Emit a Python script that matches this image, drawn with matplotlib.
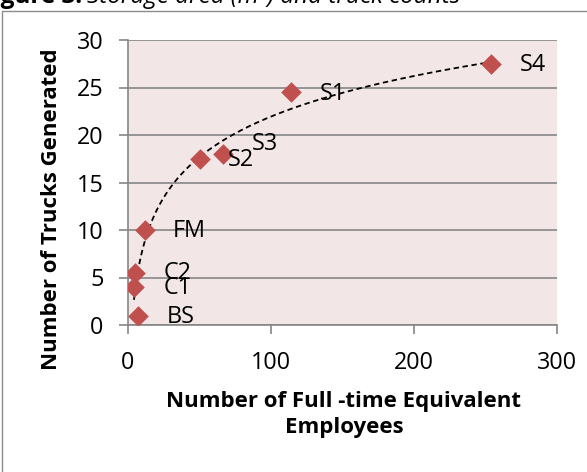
import numpy as np
import matplotlib
matplotlib.use("Agg")
import matplotlib.pyplot as plt
from matplotlib.patches import Rectangle

# Full-time equivalent employees vs. trucks generated per site
sites = ["BS", "C1", "C2", "FM", "S2", "S3", "S1", "S4"]
employees = [7, 4.4, 5, 12, 50.6, 66.3, 114, 254]
trucks = [1, 4, 5.5, 10, 17.5, 18, 24.5, 27.5]

x_ticks = [0, 100, 200, 300]
y_ticks = [0, 5, 10, 15, 20, 25, 30]

# label offsets in points (right of marker)
label_offsets = [(21, -1), (21, -1), (21, 0), (20, -1), (20, -1), (21, 7), (21, -1), (21, -1)]

FONT = "Open Sans"
plt.rcParams["font.family"] = [FONT, "DejaVu Sans"]

W, H = 587, 472
fig = plt.figure(figsize=(W / 100, H / 100), dpi=100)

TICK_FS = 16.8
LABEL_FS = 16
CAPTION_FS = 17.5

# chart frame
fig.patches.append(Rectangle((2 / W, -0.1), 1.2, (H - 11) / H + 0.1,
                             transform=fig.transFigure, fill=False,
                             edgecolor="#8c8c8c", linewidth=1.0))

# caption line above the chart (partly cut off by the page)
fig.text(82 / W, 1 - 3 / H, "Figure 3.", fontsize=CAPTION_FS, fontweight="bold",
         ha="right", va="baseline")
fig.text(87 / W, 1 - 3 / H, "Storage area (m²) and truck counts", fontsize=CAPTION_FS,
         fontstyle="italic", ha="left", va="baseline")

ax = fig.add_axes([127.7 / W, 147 / H, (556.7 - 127.7) / W, (432 - 147) / H])
ax.set_facecolor("#f2e6e6")

ax.set_xlim(0, 300)
ax.set_ylim(0, 30)
ax.set_xticks(x_ticks)
ax.set_yticks(y_ticks)
ax.tick_params(axis="both", labelsize=TICK_FS, colors="#868686", labelcolor="black",
               length=6.5, width=1.2, direction="out")
ax.tick_params(axis="x", pad=12.5)
ax.tick_params(axis="y", pad=11)

ax.yaxis.grid(True, color="#868686", linewidth=1.2)
ax.set_axisbelow(True)
for s in ["top", "right"]:
    ax.spines[s].set_visible(False)
for s in ["left", "bottom"]:
    ax.spines[s].set_color("#868686")
    ax.spines[s].set_linewidth(1.2)

# logarithmic trend line
ex = np.array(employees)
tr = np.array(trucks)
a, b = np.polyfit(np.log(ex), tr, 1)
xs = np.linspace(ex.min(), ex.max(), 400)
ax.plot(xs, a * np.log(xs) + b, linestyle=(0, (3, 2)), color="black", linewidth=1.3, zorder=3)

ax.scatter(employees, trucks, marker="D", s=10.5 ** 2, color="#c0504d", zorder=4,
           linewidths=0)

for name, xv, yv, off in zip(sites, employees, trucks, label_offsets):
    ax.annotate(name, (xv, yv), xytext=off, textcoords="offset points",
                ha="left", va="center", fontsize=TICK_FS, zorder=5)

fig.text(344 / W, 1 - 402 / H, "Number of Full -time Equivalent", fontsize=LABEL_FS,
         fontweight="bold", ha="center", va="center")
fig.text(344 / W, 1 - 428 / H, "Employees", fontsize=LABEL_FS,
         fontweight="bold", ha="center", va="center")
fig.text(52 / W, 1 - 209 / H, "Number of Trucks Generated", fontsize=LABEL_FS,
         fontweight="bold", ha="center", va="center", rotation=90)

fig.savefig("out.png", dpi=100)
